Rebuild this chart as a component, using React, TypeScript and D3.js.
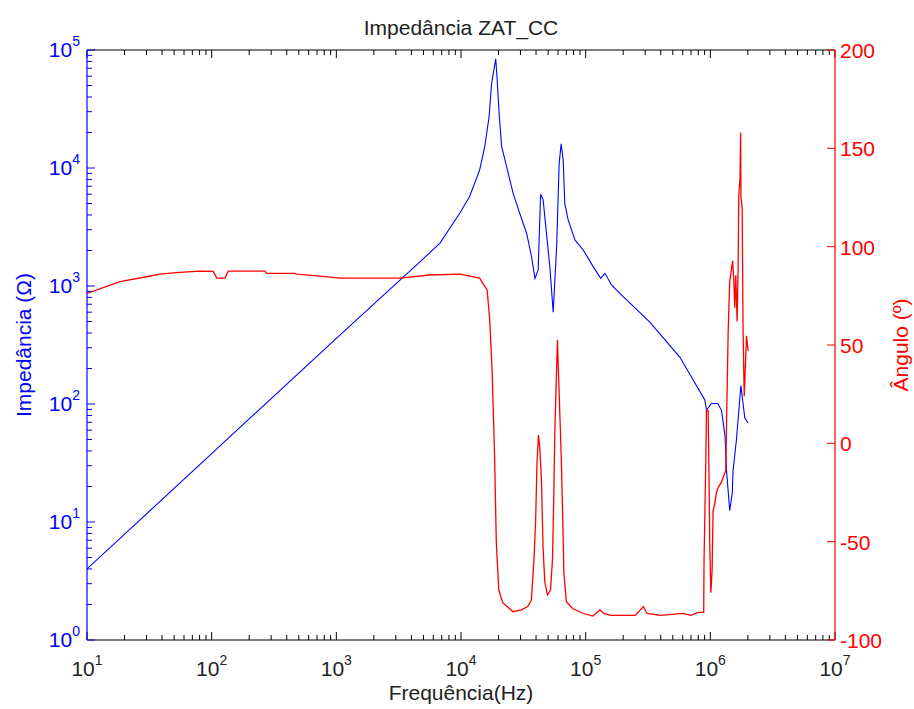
import React from "react";
import * as d3 from "d3";

// ---- Data ----
const impFreq = [10, 100, 1000, 4680, 6760, 9770, 11700, 14100, 15500, 16800, 17600, 19000, 19500, 20300, 21200, 23200, 26200, 29600, 33600, 36800, 39200, 41600, 43500, 45600, 47900, 51600, 54900, 58500, 61300, 63600, 66000, 68000, 72400, 82000, 95500, 115000, 132000, 143000, 161000, 188000, 327000, 569000, 903000, 933000, 1020000, 1150000, 1230000, 1310000, 1350000, 1430000, 1500000, 1520000, 1620000, 1730000, 1760000, 1800000, 1890000, 2010000];
const impMag = [4, 38, 360, 1600, 2300, 4130, 5710, 9600, 15200, 27200, 52000, 84000, 56000, 27200, 15200, 10300, 6100, 4130, 2800, 1770, 1160, 1370, 6000, 5370, 3170, 1460, 600, 2150, 11000, 16000, 11700, 5000, 3630, 2460, 2020, 1460, 1160, 1280, 1020, 867, 495, 250, 108, 89, 101, 101, 88, 54, 27, 12.5, 17.6, 27, 50, 117, 143, 117, 76, 69];

const angFreq = [10, 18.4, 30, 38.5, 52, 80, 103, 110, 128, 136, 267, 276, 466, 481, 738, 1070, 3240, 5640, 9800, 14100, 16200, 17000, 17800, 18600, 19200, 20100, 21600, 26100, 30500, 34300, 36700, 38500, 39700, 40700, 41800, 42800, 44200, 45500, 47000, 49400, 52200, 54200, 55500, 56500, 58300, 59400, 60800, 63800, 65700, 66900, 70000, 78500, 95000, 114000, 130000, 140000, 160000, 250000, 290000, 310000, 400000, 600000, 700000, 800000, 885000, 890000, 920000, 931000, 960000, 972000, 990000, 1010000, 1033000, 1052000, 1086000, 1120000, 1156000, 1230000, 1290000, 1330000, 1350000, 1390000, 1430000, 1480000, 1510000, 1540000, 1570000, 1600000, 1640000, 1670000, 1690000, 1730000, 1750000, 1760000, 1800000, 1830000, 1870000, 1890000, 1950000, 2010000];
const angDeg = [76.2, 82.2, 84.7, 86, 86.8, 87.6, 87.4, 84, 84, 87.6, 87.6, 86.4, 86.4, 86, 85, 84, 84, 85.6, 86, 84, 78, 62.7, 35.7, -6.8, -50.7, -74.6, -81, -85.6, -84.7, -83, -79.7, -59, -39, -10, 4.2, -1.7, -18.7, -52.6, -70.4, -77, -74.6, -59, -27, 4.2, 35.7, 52.5, 32, -8.5, -42.4, -66, -80.5, -84, -86.4, -87.8, -84.7, -86.5, -87.5, -87.5, -83, -86.5, -87.5, -86.5, -87.5, -86, -86, -60, -8.9, 16.6, 16.6, -6.9, -52, -76, -65, -34.5, -30.6, -25, -22.5, -19.6, -16, -14, 11.4, 56.6, 82, 89, 92.8, 83.7, 69, 85.5, 62, 87.4, 125.5, 134.5, 158, 125, 120, 58, 24, 31, 54.7, 47];

const xDecades = [1, 2, 3, 4, 5, 6, 7];
const yDecades = [0, 1, 2, 3, 4, 5];
const rightTicks = [-100, -50, 0, 50, 100, 150, 200];

const titleText = "Impedância ZAT_CC";
const xLabel = "Frequência(Hz)";
const yLeftLabel = "Impedância (Ω)";
const yRightLabel = "Ângulo (º)";

const W = 914, H = 709;
const L = 87, R = 835, T = 50, B = 640;
const FONT = "'Liberation Sans', Arial, Helvetica, sans-serif";

export default function App() {
  const x = d3.scaleLog().domain([10, 1e7]).range([L, R]);
  const yL = d3.scaleLog().domain([1, 1e5]).range([B, T]);
  const yR = d3.scaleLinear().domain([-100, 200]).range([B, T]);

  const impData = impFreq.map((f, i) => [f, impMag[i]] as [number, number]);
  const angData = angFreq.map((f, i) => [f, angDeg[i]] as [number, number]);

  const impLine = d3.line<[number, number]>().x(d => x(d[0])).y(d => yL(d[1]));
  const angLine = d3.line<[number, number]>().x(d => x(d[0])).y(d => yR(d[1]));

  // minor ticks
  const xMinor: number[] = [];
  for (let e = 1; e < 7; e++) for (let k = 2; k <= 9; k++) xMinor.push(k * Math.pow(10, e));
  const yMinor: number[] = [];
  for (let e = 0; e < 5; e++) for (let k = 2; k <= 9; k++) yMinor.push(k * Math.pow(10, e));

  const MAJ = 8, MIN = 5;

  return (
    <svg width={W} height={H} style={{ position: "absolute", left: 0, top: 0, background: "#fff" }} fontFamily={FONT}>
      <defs>
        <clipPath id="plotclip">
          <rect x={L} y={T - 2} width={R - L} height={B - T + 4} />
        </clipPath>
      </defs>
      <rect x={0} y={0} width={W} height={H} fill="#fff" />

      {/* data */}
      <g clipPath="url(#plotclip)" fill="none" strokeLinejoin="miter">
        <path d={impLine(impData) || ""} stroke="#0000ff" strokeWidth={1.1} />
        <path d={angLine(angData) || ""} stroke="#ff0000" strokeWidth={1.3} />
      </g>

      {/* top & bottom axes */}
      <line x1={L} x2={R} y1={T} y2={T} stroke="#000" strokeWidth={1.2} />
      <line x1={L} x2={R} y1={B} y2={B} stroke="#000" strokeWidth={1.2} />
      {xDecades.map(e => {
        const px = x(Math.pow(10, e));
        return (
          <g key={"xm" + e} stroke="#000" strokeWidth={1}>
            <line x1={px} x2={px} y1={B} y2={B - MAJ} />
            <line x1={px} x2={px} y1={T} y2={T + MAJ} />
          </g>
        );
      })}
      {xMinor.map((v, i) => {
        const px = x(v);
        return (
          <g key={"xn" + i} stroke="#000" strokeWidth={1}>
            <line x1={px} x2={px} y1={B} y2={B - MIN} />
            <line x1={px} x2={px} y1={T} y2={T + MIN} />
          </g>
        );
      })}
      {xDecades.map(e => (
        <text key={"xl" + e} x={x(Math.pow(10, e))} y={676} textAnchor="middle" fill="#222" fontSize={21}>
          <tspan>10</tspan>
          <tspan dy={-11} fontSize={14}>{e}</tspan>
        </text>
      ))}

      {/* left axis */}
      <line x1={L} x2={L} y1={T} y2={B} stroke="#0000ff" strokeWidth={1.2} />
      {yDecades.map(e => {
        const py = yL(Math.pow(10, e));
        return <line key={"ym" + e} x1={L} x2={L + MAJ} y1={py} y2={py} stroke="#0000ff" strokeWidth={1} />;
      })}
      {yMinor.map((v, i) => {
        const py = yL(v);
        return <line key={"yn" + i} x1={L} x2={L + MIN} y1={py} y2={py} stroke="#0000ff" strokeWidth={1} />;
      })}
      {yDecades.map(e => (
        <text key={"yl" + e} x={80} y={yL(Math.pow(10, e)) + 7} textAnchor="end" fill="#0000ff" fontSize={21}>
          <tspan>10</tspan>
          <tspan dy={-11} fontSize={14}>{e}</tspan>
        </text>
      ))}

      {/* right axis */}
      <line x1={R} x2={R} y1={T} y2={B} stroke="#ff0000" strokeWidth={1.2} />
      {rightTicks.map(v => {
        const py = yR(v);
        return (
          <g key={"r" + v}>
            <line x1={R} x2={R - MAJ} y1={py} y2={py} stroke="#ff0000" strokeWidth={1} />
            <text x={840} y={py + 8} fill="#ff0000" fontSize={21}>{v}</text>
          </g>
        );
      })}

      {/* labels */}
      <text x={(L + R) / 2} y={35} textAnchor="middle" fill="#222" fontSize={21}>{titleText}</text>
      <text x={(L + R) / 2} y={700} textAnchor="middle" fill="#222" fontSize={21}>{xLabel}</text>
      <text transform={`translate(31,${(T + B) / 2}) rotate(-90)`} textAnchor="middle" fill="#0000ff" fontSize={21}>{yLeftLabel}</text>
      <text transform={`translate(908,${(T + B) / 2}) rotate(-90)`} textAnchor="middle" fill="#ff0000" fontSize={21}>{yRightLabel}</text>
    </svg>
  );
}
